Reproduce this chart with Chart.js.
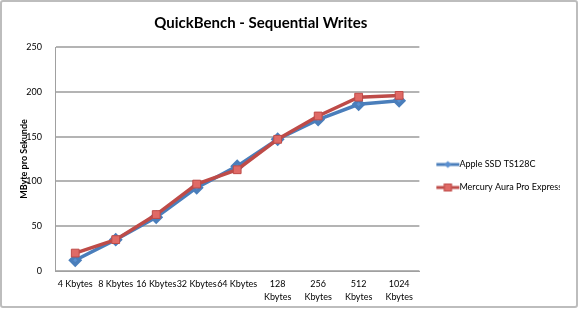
<!DOCTYPE html>
<html><head><meta charset="utf-8">
<script src="https://cdn.jsdelivr.net/npm/chart.js@4"></script>
<style>
html,body{margin:0;padding:0;background:#fff;}
#wrap{position:absolute;left:0;top:0;width:578px;height:308px;box-sizing:border-box;border:2px solid #bdbdbd;border-radius:3px;background:#fff;}
canvas{display:block;}
</style></head><body>
<div id="wrap"><canvas id="c" width="574" height="304"></canvas></div>
<script>
const categories = ["4 Kbytes","8 Kbytes","16 Kbytes","32 Kbytes","64 Kbytes",["128","Kbytes"],["256","Kbytes"],["512","Kbytes"],["1024","Kbytes"]];
const appleSSD = [12, 35, 60, 93, 117, 147, 169, 186, 190];
const mercury = [20, 35, 63, 97, 113, 147, 173, 194, 196];
const seriesNames = ["Apple SSD TS128C", "Mercury Aura Pro Express"];
const yTicks = [0, 50, 100, 150, 200, 250];

const blue = '#4a7ebb', blueFill = '#5a8fd0';
const red = '#be4b48', redFill = '#e06a66';
const FONT = 'Lato';

function legendIcon(color, fill, style){
  const c = document.createElement('canvas');
  c.width = 32; c.height = 10;
  const x = c.getContext('2d');
  x.strokeStyle = color; x.lineWidth = 3;
  x.beginPath(); x.moveTo(6, 5); x.lineTo(29, 5); x.stroke();
  x.fillStyle = fill; x.strokeStyle = color; x.lineWidth = 1;
  const m = 17.5;
  if (style === 'sq'){ x.fillRect(m-4,1,8,8); x.strokeRect(m-3.5,1.5,7,7); }
  else { x.beginPath(); x.moveTo(m,1.5); x.lineTo(m+3.5,5); x.lineTo(m,8.5); x.lineTo(m-3.5,5); x.closePath(); x.fill(); }
  return c;
}
const icons = [legendIcon(blue, blueFill, 'dia'), legendIcon(red, redFill, 'sq')];

const placeBoxes = {
  id: 'placeBoxes',
  afterLayout(chart){
    if (chart.titleBlock){ chart.titleBlock.right -= 45; }
    if (chart.legend){ chart.legend.top += 22; chart.legend.bottom += 22; chart.legend.left += 4.5; chart.legend.right += 4.5; }
  }
};

new Chart(document.getElementById('c'), {
  type: 'line',
  data: {
    labels: categories,
    datasets: [
      {label: seriesNames[0], data: appleSSD, order: 1, borderColor: blue, backgroundColor: blueFill, borderWidth: 3.5,
       pointStyle: 'rectRot', pointRadius: 4.5, pointBorderColor: blue, pointBackgroundColor: blueFill, tension: 0},
      {label: seriesNames[1], data: mercury, order: 0, borderColor: red, backgroundColor: redFill, borderWidth: 3.5,
       pointStyle: 'rect', pointRadius: 5.5, pointBorderColor: red, pointBackgroundColor: redFill, pointBorderWidth: 1, tension: 0}
    ]
  },
  plugins: [placeBoxes],
  options: {
    responsive: false, animation: false, devicePixelRatio: 1,
    layout: {padding: {left: 9, right: 20.5, top: 0, bottom: 0}},
    plugins: {
      title: {display: true, text: 'QuickBench - Sequential Writes', color: '#000',
        font: {family: FONT, size: 15, weight: 'bold'}, padding: {top: 12.3, bottom: 14.7}},
      legend: {position: 'right', align: 'center',
        labels: {usePointStyle: true, pointStyleWidth: 17, color: '#000', font: {family: FONT, size: 9}, padding: 14,
          generateLabels: (chart) => chart.data.datasets.map((d, i) => ({
            text: d.label, pointStyle: icons[i], fillStyle: d.backgroundColor, strokeStyle: d.borderColor,
            lineWidth: 0, hidden: false, datasetIndex: i, fontColor: '#000'}))}},
      tooltip: {enabled: false}
    },
    scales: {
      x: {offset: true, grid: {display: false, drawTicks: false}, border: {color: '#a0a0a0', width: 1},
        afterFit: (s) => { s.height = 35; },
        ticks: {maxRotation: 0, minRotation: 0, autoSkip: false, color: '#000', padding: 7,
          font: {family: FONT, size: 9, lineHeight: 1.4}}},
      y: {min: 0, max: 250, afterBuildTicks: (ax) => { ax.ticks = yTicks.map(v => ({value: v})); },
        afterFit: (s) => { s.width = 44; },
        grid: {color: '#b4b4b4', lineWidth: 2, drawTicks: false}, border: {color: '#a0a0a0', width: 1},
        ticks: {color: '#000', padding: 13, font: {family: FONT, size: 9}},
        title: {display: true, text: 'MByte pro Sekunde', color: '#000', font: {family: FONT, size: 9, weight: 'bold'}, padding: {top: 8, bottom: 0}}}
    }
  }
});
</script>
</body></html>
